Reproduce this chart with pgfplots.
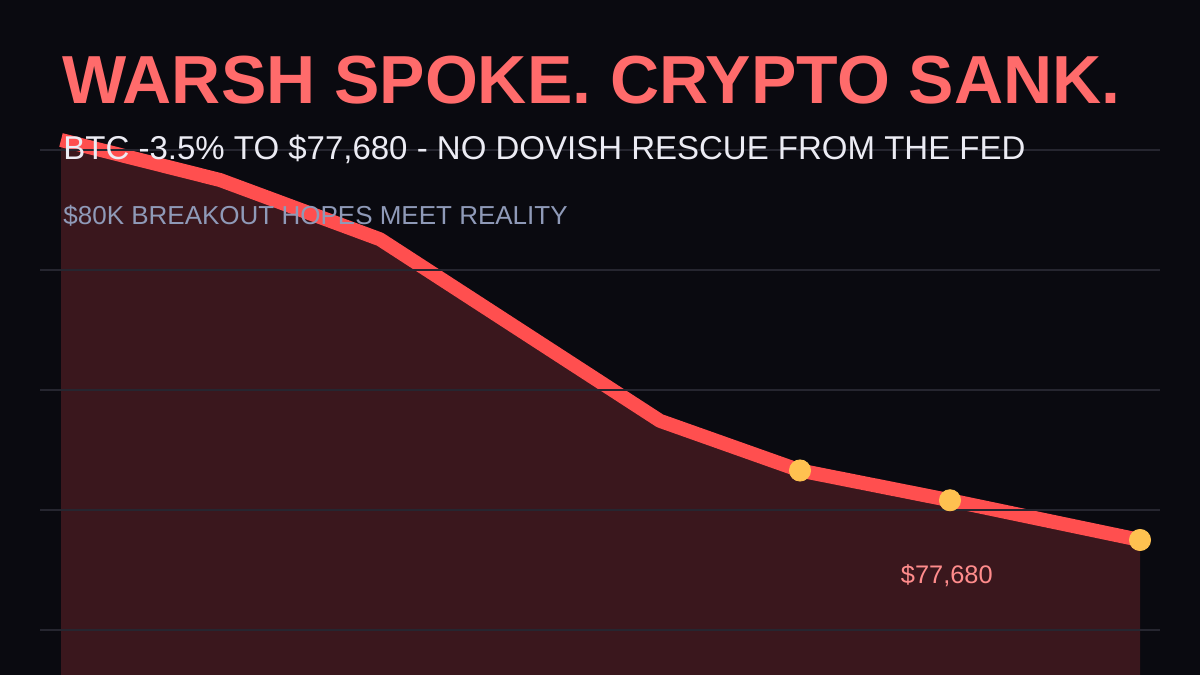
\documentclass[border=0pt]{standalone}
\usepackage{fontspec}
\setmainfont{Liberation Sans}
\usepackage{pgfplots}
\pgfplotsset{compat=1.18}

\definecolor{bg}{HTML}{0A0A10}
\definecolor{areac}{HTML}{3A171D}
\definecolor{linec}{HTML}{FF4F4F}
\definecolor{gridc}{HTML}{262630}
\definecolor{titlec}{HTML}{FF6B6B}
\definecolor{subc}{HTML}{ECECF4}
\definecolor{notec}{HTML}{8F9AB8}
\definecolor{markc}{HTML}{FFC150}
\definecolor{labelc}{HTML}{FF8C8C}

\begin{document}
\begin{tikzpicture}
\begin{axis}[
  scale only axis,
  width=600pt, height=337.5pt,
  xmin=-61, xmax=1139,
  ymin=76728.25, ymax=81487,
  axis line style={draw=none},
  ticks=none,
  axis background/.style={fill=bg},
  clip=false,
]
  % area under the price line
  \addplot[fill=areac, draw=none] coordinates {
    (0,80500) (159,80218) (319,79800) (599,78520) (739,78170) (889,77960) (1079,77680)
  } -- (axis cs:1079,76728.25) -- (axis cs:0,76728.25) -- cycle;

  % price line
  \addplot[linec, line width=7pt, line join=round] coordinates {
    (0,80500) (159,80218) (319,79800) (599,78520) (739,78170) (889,77960) (1079,77680)
  };

  % horizontal grid
  \foreach \g in {80429.5,79583.5,78737.5,77891.5,77045.5}{
    \edef\tmp{\noexpand\draw[gridc, line width=1pt] (axis cs:-21,\g) -- (axis cs:1099,\g);}
    \tmp
  }

  % highlighted points
  \addplot[markc, only marks, mark=*, mark size=5.3pt, mark options={fill=markc, draw=markc}] coordinates {
    (739,78170) (889,77960) (1079,77680)
  };

  \node[anchor=base west, inner sep=0pt, text=titlec, font=\fontsize{34}{40}\selectfont\bfseries]
    at (rel axis cs:0.0517,0.8474) {WARSH SPOKE. CRYPTO SANK.};
  \node[anchor=base west, inner sep=0pt, text=subc, font=\fontsize{16.5}{19}\selectfont]
    at (rel axis cs:0.0525,0.763) {BTC -3.5\% TO \$77,680 - NO DOVISH RESCUE FROM THE FED};
  \node[anchor=base west, inner sep=0pt, text=notec, font=\fontsize{13}{15}\selectfont]
    at (rel axis cs:0.0525,0.668) {\$80K BREAKOUT HOPES MEET REALITY};
  \node[anchor=base, inner sep=0pt, text=labelc, font=\fontsize{12.7}{15}\selectfont]
    at (rel axis cs:0.789,0.135) {\$77,680};
\end{axis}
\end{tikzpicture}
\end{document}
